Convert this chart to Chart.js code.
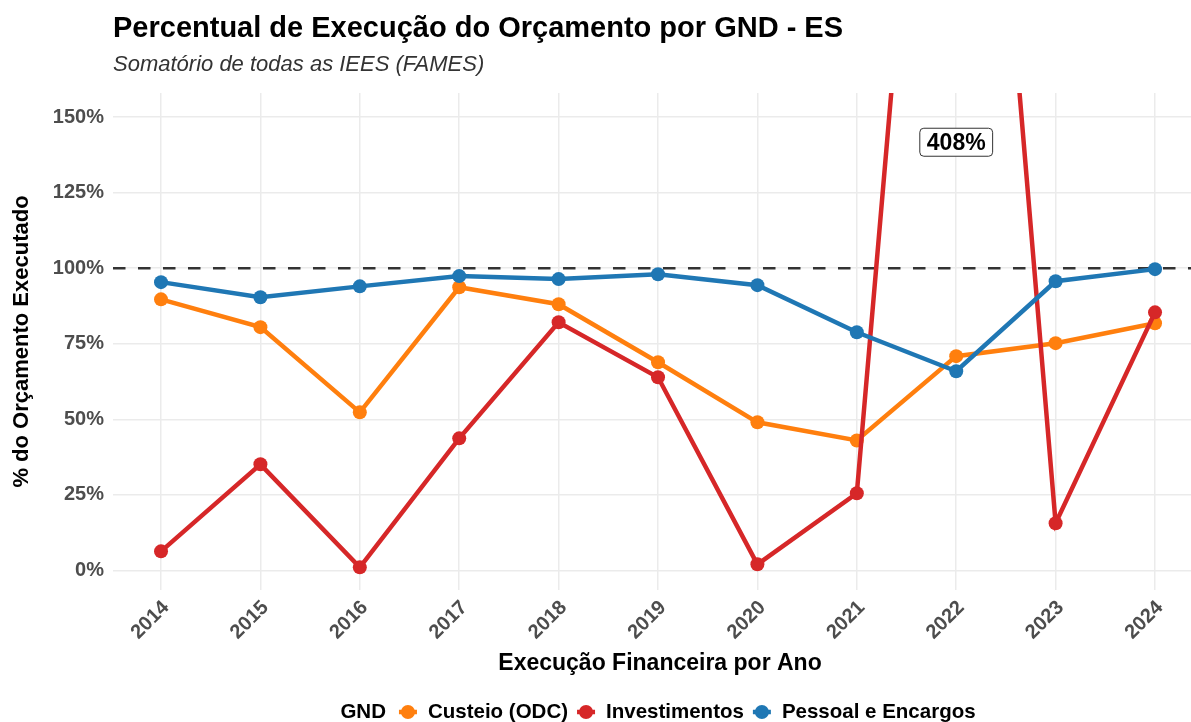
<!DOCTYPE html>
<html>
<head>
<meta charset="utf-8">
<script src="https://cdn.jsdelivr.net/npm/chart.js@4.4.1/dist/chart.umd.min.js"></script>
<style>
  html, body { margin: 0; padding: 0; background: #ffffff; }
  #wrap { width: 1191px; height: 722px; position: relative; }
</style>
</head>
<body>
<div id="wrap"><canvas id="c" width="1191" height="722"></canvas></div>
<script>
// ---- data ----
const years = [2014, 2015, 2016, 2017, 2018, 2019, 2020, 2021, 2022, 2023, 2024];
const custeio = [89.7, 80.5, 52.3, 93.7, 88.1, 68.9, 49.0, 43.0, 70.9, 75.2, 81.8];
const investimentos = [6.3, 35.1, 1.0, 43.7, 82.1, 63.9, 2.0, 25.5, 408, 15.6, 85.4];
const pessoal = [95.4, 90.4, 94.0, 97.4, 96.4, 98.0, 94.4, 78.8, 65.9, 95.7, 99.7];
const seriesNames = ['Custeio (ODC)', 'Investimentos', 'Pessoal e Encargos'];
const seriesColors = ['#FF7F0E', '#D62728', '#1F77B4'];
const yTicks = [0, 25, 50, 75, 100, 125, 150];
const referenceLine = 100;
const outlierLabel = { year: 2022, value: 408, text: '408%', labelY: 141.7 };

const FONT = '"Liberation Sans", Arial, Helvetica, sans-serif';

function toPoints(arr) { return arr.map((v, i) => ({ x: years[i], y: v })); }

const datasets = [custeio, investimentos, pessoal].map((arr, i) => ({
  label: seriesNames[i],
  data: toPoints(arr),
  borderColor: seriesColors[i],
  backgroundColor: seriesColors[i],
  pointBackgroundColor: seriesColors[i],
  pointBorderWidth: 0,
  pointRadius: 7,
  pointHoverRadius: 7,
  borderWidth: 4.5,
  tension: 0,
  clip: 0,
  order: [2, 1, 0][i]
}));

const decorPlugin = {
  id: 'decor',
  beforeDatasetsDraw(chart) {
    const { ctx, chartArea, scales } = chart;
    const y = scales.y.getPixelForValue(referenceLine);
    ctx.save();
    ctx.strokeStyle = '#333333';
    ctx.lineWidth = 2.6;
    ctx.setLineDash([12.5, 12.5]);
    ctx.beginPath();
    ctx.moveTo(chartArea.left, y);
    ctx.lineTo(chartArea.right, y);
    ctx.stroke();
    ctx.restore();
  },
  afterDraw(chart) {
    const { ctx, scales } = chart;
    ctx.save();
    // title & subtitle
    ctx.fillStyle = '#000000';
    ctx.textBaseline = 'alphabetic';
    ctx.textAlign = 'left';
    ctx.font = 'bold 29px ' + FONT;
    ctx.fillText('Percentual de Execução do Orçamento por GND - ES', 113, 37);
    ctx.fillStyle = '#333333';
    ctx.font = 'italic 22px ' + FONT;
    ctx.fillText('Somatório de todas as IEES (FAMES)', 113, 71);

    // x axis title
    ctx.fillStyle = '#000000';
    ctx.font = 'bold 23px ' + FONT;
    ctx.textAlign = 'center';
    ctx.textBaseline = 'middle';
    ctx.fillText('Execução Financeira por Ano', 660, 664);

    // outlier label
    const lx = scales.x.getPixelForValue(outlierLabel.year);
    const ly = scales.y.getPixelForValue(outlierLabel.labelY);
    ctx.font = 'bold 23px ' + FONT;
    const tw = ctx.measureText(outlierLabel.text).width;
    const bw = tw + 14, bh = 28;
    const bx = lx - bw / 2, by = ly - bh / 2;
    ctx.fillStyle = '#ffffff';
    ctx.strokeStyle = '#333333';
    ctx.lineWidth = 1;
    ctx.beginPath();
    ctx.roundRect(bx, by, bw, bh, 4);
    ctx.fill();
    ctx.stroke();
    ctx.fillStyle = '#000000';
    ctx.textAlign = 'center';
    ctx.textBaseline = 'middle';
    ctx.fillText(outlierLabel.text, lx, ly + 1);

    // legend
    const legY = 712;
    ctx.font = 'bold 20.5px ' + FONT;
    const title = 'GND';
    const items = seriesNames.map((n, i) => ({ n, c: seriesColors[i], w: ctx.measureText(n).width }));
    const titleW = ctx.measureText(title).width;
    const gapTitle = 12, keyW = 20, keyGap = 10, itemGap = 8;
    let total = titleW + gapTitle;
    items.forEach((it, i) => { total += keyW + keyGap + it.w + (i < items.length - 1 ? itemGap : 0); });
    let x = 658 - total / 2;
    ctx.textAlign = 'left';
    ctx.textBaseline = 'middle';
    ctx.fillStyle = '#000000';
    ctx.fillText(title, x, legY);
    x += titleW + gapTitle;
    items.forEach((it) => {
      ctx.fillStyle = it.c;
      ctx.beginPath();
      ctx.arc(x + keyW / 2, legY, 7, 0, Math.PI * 2);
      ctx.fill();
      ctx.strokeStyle = it.c;
      ctx.lineWidth = 4.5;
      ctx.beginPath();
      ctx.moveTo(x + 1, legY);
      ctx.lineTo(x + keyW - 1, legY);
      ctx.stroke();
      x += keyW + keyGap;
      ctx.fillStyle = '#000000';
      ctx.fillText(it.n, x, legY);
      x += it.w + itemGap;
    });
    ctx.restore();
  }
};

new Chart(document.getElementById('c'), {
  type: 'line',
  data: { datasets },
  plugins: [decorPlugin],
  options: {
    responsive: false,
    animation: false,
    devicePixelRatio: 1,
    layout: { autoPadding: false, padding: { top: 93, bottom: 42, left: 0, right: 0 } },
    plugins: {
      legend: { display: false },
      title: { display: false },
      tooltip: { enabled: false }
    },
    scales: {
      x: {
        type: 'linear',
        min: 2013.517,
        max: 2024.362,
        afterFit(scale) { scale.height = 90; scale.paddingRight = 0; scale.paddingLeft = 0; },
        afterBuildTicks(scale) { scale.ticks = years.map(v => ({ value: v })); },
        grid: { color: '#ebebeb', lineWidth: 1.5, drawTicks: false },
        border: { display: false },
        ticks: {
          minRotation: 45,
          maxRotation: 45,
          padding: 6,
          labelOffset: 5,
          color: '#4d4d4d',
          font: { family: FONT, size: 20, weight: 'bold' },
          callback: v => String(v)
        },
        title: { display: false }
      },
      y: {
        type: 'linear',
        min: -6.5,
        max: 158,
        afterFit(scale) { scale.width = 113; },
        afterBuildTicks(scale) { scale.ticks = yTicks.map(v => ({ value: v })); },
        grid: { color: '#ebebeb', lineWidth: 1.5, drawTicks: false },
        border: { display: false },
        ticks: {
          padding: 9,
          color: '#4d4d4d',
          font: { family: FONT, size: 20, weight: 'bold' },
          callback: v => v + '%'
        },
        title: {
          display: true,
          text: '% do Orçamento Executado',
          color: '#000000',
          font: { family: FONT, size: 22, weight: 'bold' },
          padding: { top: 9, bottom: 0 }
        }
      }
    }
  }
});
</script>
</body>
</html>
